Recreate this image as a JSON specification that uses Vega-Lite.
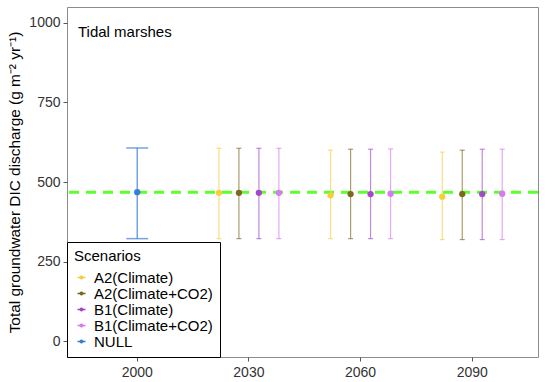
{
  "$schema": "https://vega.github.io/schema/vega-lite/v6.json",
  "autosize": "none",
  "width": 471,
  "height": 350,
  "padding": {"left": 67, "top": 7, "right": 16, "bottom": 25},
  "config": {
    "view": {"stroke": "#8c8c8c", "strokeWidth": 1},
    "font": "Liberation Sans"
  },
  "title": {
    "text": "Tidal marshes",
    "anchor": "start",
    "frame": "group",
    "orient": "top",
    "offset": -33,
    "dx": 11,
    "fontSize": 15,
    "fontWeight": "normal",
    "color": "#000000",
    "font": "Liberation Sans"
  },
  "data": {
    "values": [
      {"year": "2000", "scenario": "NULL", "mean": 468, "lo": 322, "hi": 607},
      {"year": "2030", "scenario": "A2(Climate)", "mean": 466, "lo": 322, "hi": 606},
      {"year": "2030", "scenario": "A2(Climate+CO2)", "mean": 466, "lo": 322, "hi": 606},
      {"year": "2030", "scenario": "B1(Climate)", "mean": 466, "lo": 322, "hi": 606},
      {"year": "2030", "scenario": "B1(Climate+CO2)", "mean": 466, "lo": 322, "hi": 606},
      {"year": "2060", "scenario": "A2(Climate)", "mean": 458, "lo": 322, "hi": 600},
      {"year": "2060", "scenario": "A2(Climate+CO2)", "mean": 462, "lo": 322, "hi": 603},
      {"year": "2060", "scenario": "B1(Climate)", "mean": 462, "lo": 322, "hi": 603},
      {"year": "2060", "scenario": "B1(Climate+CO2)", "mean": 463, "lo": 322, "hi": 604},
      {"year": "2090", "scenario": "A2(Climate)", "mean": 454, "lo": 319, "hi": 594},
      {"year": "2090", "scenario": "A2(Climate+CO2)", "mean": 462, "lo": 319, "hi": 600},
      {"year": "2090", "scenario": "B1(Climate)", "mean": 462, "lo": 319, "hi": 603},
      {"year": "2090", "scenario": "B1(Climate+CO2)", "mean": 463, "lo": 319, "hi": 603}
    ]
  },
  "encoding": {
    "x": {
      "field": "year", "type": "ordinal",
      "scale": {"paddingInner": 0.284, "paddingOuter": 0.251, "align": 0.54},
      "axis": {"title": null, "labelAngle": 0, "labelFontSize": 14, "labelColor": "#333333", "tickColor": "#555555", "tickSize": 4, "domain": false, "labelPadding": 4}
    },
    "y": {
      "type": "quantitative",
      "scale": {"domain": [-50, 1050], "nice": false, "zero": false},
      "axis": {
        "title": "Total groundwater DIC discharge (g m⁻² yr⁻¹)",
        "titleFontSize": 15.4, "titleFontWeight": "normal", "titleColor": "#000000", "titlePadding": 6,
        "values": [0, 250, 500, 750, 1000],
        "format": "d",
        "labelFontSize": 14, "labelColor": "#333333", "tickColor": "#555555", "tickSize": 4, "grid": false, "domain": false, "labelPadding": 3
      }
    },
    "color": {
      "field": "scenario", "type": "nominal",
      "scale": {
        "domain": ["A2(Climate)", "A2(Climate+CO2)", "B1(Climate)", "B1(Climate+CO2)", "NULL"],
        "range": ["#F5CE3E", "#7A6A1F", "#A349C8", "#D67BF0", "#3A7DD6"]
      },
      "legend": {
        "title": "Scenarios",
        "orient": "bottom-left",
        "offset": 0,
        "strokeColor": "#000000",
        "fillColor": "#ffffff",
        "padding": 7,
        "titleFontSize": 15, "titleFontWeight": "normal", "titleColor": "#000000",
        "labelFontSize": 11, "labelColor": "#000000",
        "symbolType": "M-1,0H1M-0.35,0A0.35,0.35,0,1,0,0.35,0A0.35,0.35,0,1,0,-0.35,0Z",
        "symbolSize": 64, "symbolOpacity": 1, "symbolStrokeWidth": 1.3,
        "labelOffset": 5,
        "rowPadding": 0,
        "titlePadding": 6,
        "encode": {
          "symbols": {"update": {"stroke": {"scale": "color", "field": "value"}}},
          "labels": {"update": {"fontSize": {"value": 15}}}
        }
      }
    }
  },
  "layer": [
    {
      "data": {"values": [{"ref": 468}]},
      "mark": {"type": "rule", "color": "#5CFF2E", "strokeWidth": 3, "strokeDash": [10, 7]},
      "encoding": {"y": {"field": "ref", "type": "quantitative"}, "x": null, "color": null}
    },
    {
      "transform": [{"filter": "datum.scenario === 'NULL'"}],
      "layer": [
        {"mark": {"type": "rule", "strokeWidth": 1.5, "opacity": 0.7}, "encoding": {"y": {"field": "lo"}, "y2": {"field": "hi"}}},
        {"mark": {"type": "tick", "orient": "horizontal", "size": 22, "thickness": 1.5, "opacity": 0.7}, "encoding": {"y": {"field": "hi"}}},
        {"mark": {"type": "tick", "orient": "horizontal", "size": 22, "thickness": 1.5, "opacity": 0.7}, "encoding": {"y": {"field": "lo"}}},
        {"mark": {"type": "point", "filled": true, "size": 40, "opacity": 1}, "encoding": {"y": {"field": "mean"}}}
      ]
    },
    {
      "transform": [{"filter": "datum.scenario !== 'NULL'"}],
      "encoding": {"xOffset": {"field": "scenario", "type": "nominal", "scale": {"domain": ["A2(Climate)", "A2(Climate+CO2)", "B1(Climate)", "B1(Climate+CO2)"]}}},
      "layer": [
        {"mark": {"type": "rule", "strokeWidth": 1.2, "opacity": 0.65}, "encoding": {"y": {"field": "lo"}, "y2": {"field": "hi"}}},
        {"mark": {"type": "tick", "orient": "horizontal", "size": 5, "thickness": 1.2, "opacity": 0.65}, "encoding": {"y": {"field": "hi"}}},
        {"mark": {"type": "tick", "orient": "horizontal", "size": 5, "thickness": 1.2, "opacity": 0.65}, "encoding": {"y": {"field": "lo"}}},
        {"mark": {"type": "point", "filled": true, "size": 40, "opacity": 1}, "encoding": {"y": {"field": "mean"}}}
      ]
    }
  ]
}
